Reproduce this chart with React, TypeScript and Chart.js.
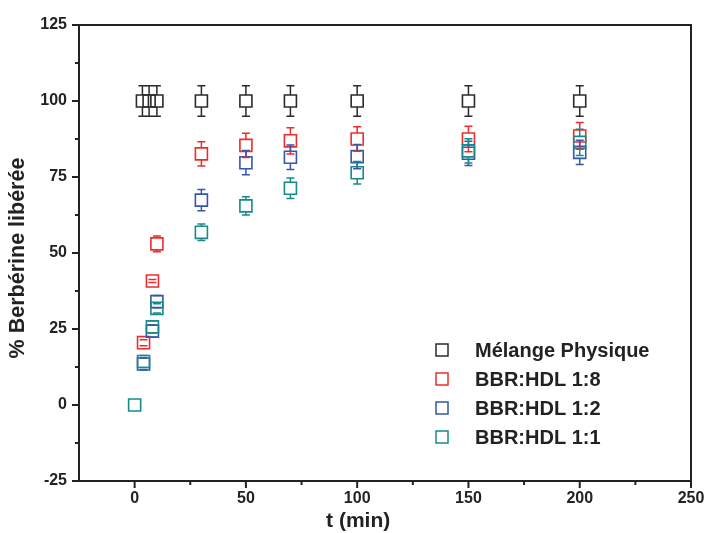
import React, { useEffect, useRef } from 'react';
import { Chart, registerables } from 'chart.js';

Chart.register(...registerables);

const seriesLabels = ['Mélange Physique', 'BBR:HDL 1:8', 'BBR:HDL 1:2', 'BBR:HDL 1:1'];
const seriesColors = ['#2b2b2b', '#ee2c2c', '#3656a8', '#178a8a'];

const timesMelange = [3.5, 6.5, 10, 30, 50, 70, 100, 150, 200];
const valuesMelange = [100, 100, 100, 100, 100, 100, 100, 100, 100];
const errorsMelange = [5, 5, 5, 5, 5, 5, 5, 5, 5];

const times18 = [4, 8, 10, 30, 50, 70, 100, 150, 200];
const values18 = [20.5, 40.8, 53, 82.6, 85.4, 86.9, 87.5, 87.5, 88.5];
const errors18 = [1, 0.5, 2.6, 4, 4, 4.3, 4, 4.2, 4.4];

const times12 = [4, 8, 10, 30, 50, 70, 100, 150, 200];
const values12 = [13.5, 24.3, 34, 67.4, 79.7, 81.5, 81.7, 82.8, 83.1];
const errors12 = [2, 2, 2, 3.5, 4, 4, 4, 4, 4];

const times11 = [0, 4, 8, 10, 30, 50, 70, 100, 150, 200];
const values11 = [0, 14.3, 25.7, 31.8, 56.8, 65.5, 71.3, 76.4, 83.6, 86.4];
const errors11 = [0, 2, 2, 1.5, 2.7, 3, 3.4, 3.7, 4, 4.3];

const xMajorTicks = [0, 50, 100, 150, 200, 250];
const xMinorTicks = [25, 75, 125, 175, 225];
const yMajorTicks = [-25, 0, 25, 50, 75, 100, 125];
const yMinorTicks = [-12.5, 12.5, 37.5, 62.5, 87.5, 112.5];

const xTitle = 't (min)';
const yTitle = '% Berbérine libérée';

const FONT = "'Liberation Sans', Arial, Helvetica, sans-serif";
const AXIS_COLOR = '#222222';
const MARKER_R = 8.5;

const seriesTimes = [timesMelange, times18, times12, times11];
const seriesValues = [valuesMelange, values18, values12, values11];
const seriesErrors = [errorsMelange, errors18, errors12, errors11];

const errorBarPlugin = {
  id: 'errorBars',
  afterDatasetsDraw(chart: any) {
    const { ctx } = chart;
    const xs = chart.scales.x;
    const ys = chart.scales.y;
    const half = MARKER_R * Math.SQRT1_2;
    const capW = 4;
    ctx.save();
    ctx.lineWidth = 1.5;
    seriesTimes.forEach((times, i) => {
      ctx.strokeStyle = seriesColors[i];
      times.forEach((t, j) => {
        const e = seriesErrors[i][j];
        if (!e) return;
        const v = seriesValues[i][j];
        const x = xs.getPixelForValue(t);
        const y = ys.getPixelForValue(v);
        const yt = ys.getPixelForValue(v + e);
        const yb = ys.getPixelForValue(v - e);
        ctx.beginPath();
        if (yt < y - half) {
          ctx.moveTo(x, y - half);
          ctx.lineTo(x, yt);
        }
        if (yb > y + half) {
          ctx.moveTo(x, y + half);
          ctx.lineTo(x, yb);
        }
        ctx.moveTo(x - capW, yt);
        ctx.lineTo(x + capW, yt);
        ctx.moveTo(x - capW, yb);
        ctx.lineTo(x + capW, yb);
        ctx.stroke();
      });
    });
    ctx.restore();
  },
};

const framePlugin = {
  id: 'frameTicks',
  afterDraw(chart: any) {
    const { ctx, chartArea } = chart;
    const xs = chart.scales.x;
    const ys = chart.scales.y;
    const { left, right, top, bottom } = chartArea;
    ctx.save();
    ctx.strokeStyle = AXIS_COLOR;
    ctx.lineWidth = 2;
    ctx.strokeRect(left, top, right - left, bottom - top);
    ctx.beginPath();
    xMajorTicks.forEach((v) => {
      const x = xs.getPixelForValue(v);
      ctx.moveTo(x, bottom);
      ctx.lineTo(x, bottom + 7);
    });
    xMinorTicks.forEach((v) => {
      const x = xs.getPixelForValue(v);
      ctx.moveTo(x, bottom);
      ctx.lineTo(x, bottom + 4);
    });
    yMajorTicks.forEach((v) => {
      const y = ys.getPixelForValue(v);
      ctx.moveTo(left, y);
      ctx.lineTo(left - 7, y);
    });
    yMinorTicks.forEach((v) => {
      const y = ys.getPixelForValue(v);
      ctx.moveTo(left, y);
      ctx.lineTo(left - 4, y);
    });
    ctx.stroke();

    ctx.fillStyle = AXIS_COLOR;
    ctx.textAlign = 'center';
    ctx.textBaseline = 'middle';
    // x axis title, placed under the 100 tick as in the reference
    ctx.font = `bold 21px ${FONT}`;
    ctx.fillText(xTitle, xs.getPixelForValue(100) + 1, bottom + 40);
    // y axis title
    ctx.save();
    ctx.translate(18, (top + bottom) / 2 + 5);
    ctx.rotate(-Math.PI / 2);
    ctx.font = `bold 21.5px ${FONT}`;
    ctx.fillText(yTitle, 0, 0);
    ctx.restore();
    ctx.restore();
  },
};

const legendPlugin = {
  id: 'insideLegend',
  afterDraw(chart: any) {
    const { ctx, chartArea } = chart;
    const mx = chartArea.left + 363;
    const tx = chartArea.left + 396;
    const y0 = chartArea.top + 325;
    const dy = 29;
    const s = 12;
    ctx.save();
    ctx.font = `bold 20px ${FONT}`;
    ctx.textBaseline = 'middle';
    ctx.textAlign = 'left';
    seriesLabels.forEach((label, i) => {
      const y = y0 + i * dy;
      ctx.strokeStyle = seriesColors[i];
      ctx.lineWidth = 1.5;
      ctx.strokeRect(mx - s / 2, y - s / 2, s, s);
      ctx.fillStyle = AXIS_COLOR;
      ctx.fillText(label, tx, y + 1);
    });
    ctx.restore();
  },
};

export default function App() {
  const ref = useRef<HTMLCanvasElement | null>(null);
  useEffect(() => {
    if (!ref.current) return;
    const datasets = seriesLabels.map((label, i) => ({
      label,
      data: seriesTimes[i].map((t, j) => ({ x: t, y: seriesValues[i][j] })),
      pointStyle: 'rect',
      pointRadius: MARKER_R,
      pointHoverRadius: MARKER_R,
      pointBorderWidth: 1.6,
      borderColor: seriesColors[i],
      backgroundColor: 'rgba(0,0,0,0)',
      showLine: false,
      order: 4 - i,
    }));
    const chart = new Chart(ref.current, {
      type: 'scatter',
      data: { datasets },
      plugins: [errorBarPlugin, framePlugin, legendPlugin],
      options: {
        animation: false,
        responsive: false,
        maintainAspectRatio: false,
        events: [],
        layout: { padding: { left: 0, right: 15, top: 25, bottom: 0 } },
        plugins: { legend: { display: false }, tooltip: { enabled: false } },
        scales: {
          x: {
            type: 'linear',
            min: -25,
            max: 250,
            grid: { display: false, drawTicks: false },
            border: { display: false },
            afterBuildTicks: (s: any) => {
              s.ticks = xMajorTicks.map((v) => ({ value: v }));
            },
            afterFit: (s: any) => {
              s.height = 52;
              s.paddingLeft = 0;
              s.paddingRight = 0;
            },
            ticks: {
              autoSkip: false,
              maxRotation: 0,
              padding: 8,
              color: AXIS_COLOR,
              font: { family: FONT, size: 16, weight: 'bold' },
            },
            title: { display: false },
          },
          y: {
            type: 'linear',
            min: -25,
            max: 125,
            grid: { display: false, drawTicks: false },
            border: { display: false },
            afterBuildTicks: (s: any) => {
              s.ticks = yMajorTicks.map((v) => ({ value: v }));
            },
            afterFit: (s: any) => {
              s.width = 79;
              s.paddingTop = 0;
              s.paddingBottom = 0;
            },
            ticks: {
              autoSkip: false,
              padding: 12,
              color: AXIS_COLOR,
              font: { family: FONT, size: 16, weight: 'bold' },
            },
            title: { display: false },
          },
        },
      } as any,
    });
    return () => chart.destroy();
  }, []);
  return (
    <div style={{ position: 'fixed', left: 0, top: 0, width: 706, height: 533, background: '#fff' }}>
      <canvas ref={ref} width={706} height={533} style={{ display: 'block' }} />
    </div>
  );
}
